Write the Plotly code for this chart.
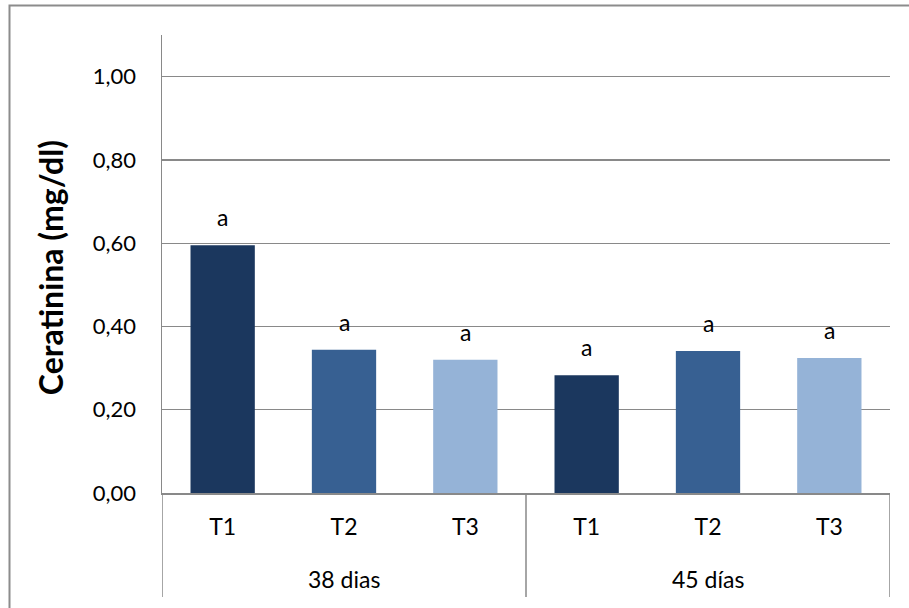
import plotly.graph_objects as go

groups = ["38 dias", "38 dias", "38 dias", "45 días", "45 días", "45 días"]
treatments = ["T1", "T2", "T3", "T1", "T2", "T3"]
values = [0.595, 0.344, 0.320, 0.283, 0.341, 0.324]
letters = ["a", "a", "a", "a", "a", "a"]
tick_values = [0.0, 0.2, 0.4, 0.6, 0.8, 1.0]
tick_labels = ["0,00", "0,20", "0,40", "0,60", "0,80", "1,00"]
y_title = "Ceratinina (mg/dl)"

palette = {"T1": "#1B375E", "T2": "#376092", "T3": "#95B3D7"}
colors = [palette[t] for t in treatments]
positions = list(range(len(values)))

W, H = 909, 608
L, T = 162, 35
R = W - 890
B = H - 492.7
pw, ph = W - L - R, H - T - B

FONT = "Lato"
GRID = "#898989"
TXT = "#000000"

fig = go.Figure()
fig.add_trace(go.Bar(
    x=positions,
    y=values,
    marker=dict(color=colors, line=dict(width=0)),
    width=0.53,
    showlegend=False,
    hoverinfo="skip",
))

annotations = []
for i, (v, t) in enumerate(zip(values, letters)):
    annotations.append(dict(
        x=i, y=v, xref="x", yref="y", text=t, showarrow=False,
        yanchor="bottom", yshift=12, font=dict(family=FONT, size=23, color=TXT),
    ))

# group labels and dividers below the category labels
shapes = []
bounds = []
start = 0
for i in range(1, len(groups) + 1):
    if i == len(groups) or groups[i] != groups[start]:
        annotations.append(dict(
            x=(start + i - 1) / 2, y=-86 / ph, xref="x", yref="paper",
            text=groups[start], showarrow=False, xanchor="center", yanchor="middle",
            font=dict(family=FONT, size=23, color=TXT),
        ))
        bounds.append(start - 0.5)
        start = i
bounds.append(len(groups) - 0.5)
for b in bounds:
    shapes.append(dict(
        type="line", xref="x", yref="paper", x0=b, x1=b, y0=0, y1=-104 / ph,
        line=dict(color=GRID, width=1.5),
    ))

# y-axis title
annotations.append(dict(
    x=(50 - L) / pw, y=(H - B - 268) / ph, xref="paper", yref="paper",
    text="<b>" + y_title + "</b>", textangle=-90, showarrow=False,
    xanchor="center", yanchor="middle",
    font=dict(family=FONT, size=32, color=TXT),
))

# outer chart border (cropped at right and bottom)
shapes.append(dict(
    type="rect", xref="paper", yref="paper",
    x0=(9.5 - L) / pw, x1=(W + 10 - L) / pw,
    y0=(H - B - (H + 10)) / ph, y1=(H - B - 5.5) / ph,
    line=dict(color="#8C8C8C", width=2), fillcolor="rgba(0,0,0,0)", layer="below",
))

fig.update_layout(
    width=W, height=H,
    margin=dict(l=L, r=R, t=T, b=B, autoexpand=False),
    paper_bgcolor="white", plot_bgcolor="white",
    font=dict(family=FONT, size=23, color=TXT),
    annotations=annotations,
    shapes=shapes,
)
fig.update_xaxes(
    range=[-0.5, len(values) - 0.5],
    tickvals=positions, ticktext=treatments,
    showline=True, linecolor=GRID, linewidth=1.5,
    ticks="", ticklabelstandoff=13,
    tickfont=dict(family=FONT, size=23, color=TXT),
    showgrid=False, zeroline=False,
)
fig.update_yaxes(
    range=[0, 1.1],
    tickvals=tick_values, ticktext=tick_labels,
    showline=True, linecolor=GRID, linewidth=1.5,
    showgrid=True, gridcolor=GRID, gridwidth=1.2,
    zeroline=False, ticks="",
    ticklabelstandoff=20,
    tickfont=dict(family=FONT, size=22, color=TXT),
)

fig.write_html(
    "out.html",
    config={"displayModeBar": False, "staticPlot": True},
    post_script="document.body.style.margin='0';document.body.style.padding='0';document.body.style.overflow='hidden';",
)
